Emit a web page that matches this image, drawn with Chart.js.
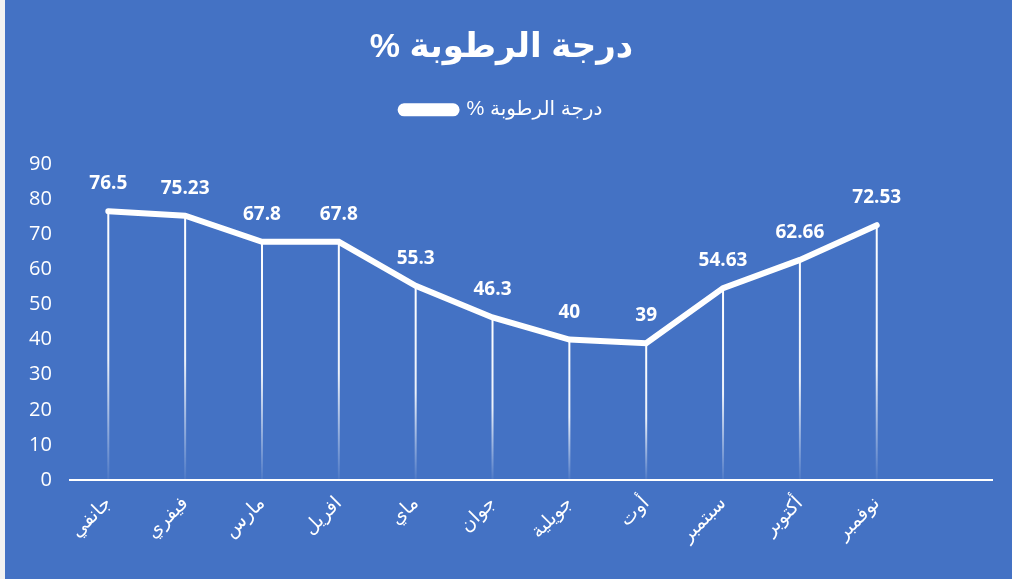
<!DOCTYPE html>
<html>
<head>
<meta charset="utf-8">
<script src="https://cdn.jsdelivr.net/npm/chart.js@4"></script>
<style>
  body { margin: 0; background: #f2f2f2; }
  #wrap { position: absolute; left: 5px; top: 0; width: 1007px; height: 579px; background: #4472C4; }
</style>
</head>
<body>
<div id="wrap"><canvas id="graficoRutuba"></canvas></div>
<script>
const mois = ["جانفي", "فيفري", "مارس", "افريل", "ماي", "جوان", "جويلية", "أوت", "سبتمبر", "أكتوبر", "نوفمبر", ""];
const rutuba = [76.5, 75.23, 67.8, 67.8, 55.3, 46.3, 40, 39, 54.63, 62.66, 72.53];
const titre = "\u202Bدرجة الرطوبة %\u202C";
const serie = "\u202Bدرجة الرطوبة %\u202C";

const blanc = "#ffffff";
const police = "'Liberation Sans', 'DejaVu Sans', sans-serif";

// traits verticaux dégradés + étiquettes au-dessus des points
const pluginTraits = {
    id: "traits",
    beforeInit(chart) {
        const fit = chart.legend.fit;
        chart.legend.fit = function () {
            fit.bind(chart.legend)();
            this.height += 34;
        };
    },
    beforeDatasetsDraw(chart) {
        const ctx = chart.ctx;
        const meta = chart.getDatasetMeta(0);
        const y0 = chart.scales.y.getPixelForValue(0);
        ctx.save();
        meta.data.forEach(function (pt) {
            const g = ctx.createLinearGradient(0, pt.y, 0, y0);
            g.addColorStop(0, "rgba(255,255,255,1)");
            g.addColorStop(0.55, "rgba(255,255,255,0.9)");
            g.addColorStop(1, "rgba(255,255,255,0.05)");
            ctx.strokeStyle = g;
            ctx.lineWidth = 2;
            ctx.beginPath();
            ctx.moveTo(pt.x, pt.y);
            ctx.lineTo(pt.x, y0);
            ctx.stroke();
        });
        ctx.restore();
    },
    afterDatasetsDraw(chart) {
        const ctx = chart.ctx;
        const meta = chart.getDatasetMeta(0);
        ctx.save();
        ctx.fillStyle = blanc;
        ctx.font = "bold 19px 'Open Sans', " + police;
        ctx.textAlign = "center";
        ctx.textBaseline = "bottom";
        meta.data.forEach(function (pt, i) {
            ctx.fillText(String(rutuba[i]), pt.x, pt.y - 18);
        });
        ctx.restore();
    }
};

const ctx = document.getElementById("graficoRutuba").getContext("2d");

new Chart(ctx, {
    type: "line",
    data: {
        labels: mois,
        datasets: [
            {
                label: serie,
                data: rutuba,
                borderColor: blanc,
                backgroundColor: blanc,
                borderWidth: 6,
                borderCapStyle: "round",
                borderJoinStyle: "miter",
                tension: 0,
                pointRadius: 0,
                pointHoverRadius: 0,
                fill: false,
            },
        ],
    },
    options: {
        responsive: true,
        maintainAspectRatio: false,
        animation: false,
        layout: {
            padding: { left: 6, right: 20, top: 8, bottom: 20 },
        },
        plugins: {
            title: {
                display: true,
                text: titre,
                color: blanc,
                font: { size: 34, weight: "bold", family: police },
                padding: { top: 19, bottom: 22 },
            },
            legend: {
                display: true,
                position: "top",
                labels: {
                    color: blanc,
                    font: { size: 20, family: police },
                    boxWidth: 56,
                    boxHeight: 7,
                    useBorderRadius: true,
                    borderRadius: 3.5,
                    padding: 10,
                },
            },
            tooltip: { enabled: false },
        },
        scales: {
            x: {
                offset: true,
                grid: { display: false, drawTicks: false },
                border: { display: true, color: blanc, width: 2 },
                ticks: {
                    color: blanc,
                    font: { size: 19, family: police },
                    maxRotation: 45,
                    minRotation: 45,
                    autoSkip: false,
                    padding: 12,
                },
            },
            y: {
                min: 0,
                max: 90,
                grid: { display: false, drawTicks: false },
                border: { display: false },
                ticks: {
                    stepSize: 10,
                    color: blanc,
                    font: { size: 20, family: "'Open Sans', " + police },
                    padding: 18,
                },
            },
        },
    },
    plugins: [pluginTraits],
});
</script>
</body>
</html>
